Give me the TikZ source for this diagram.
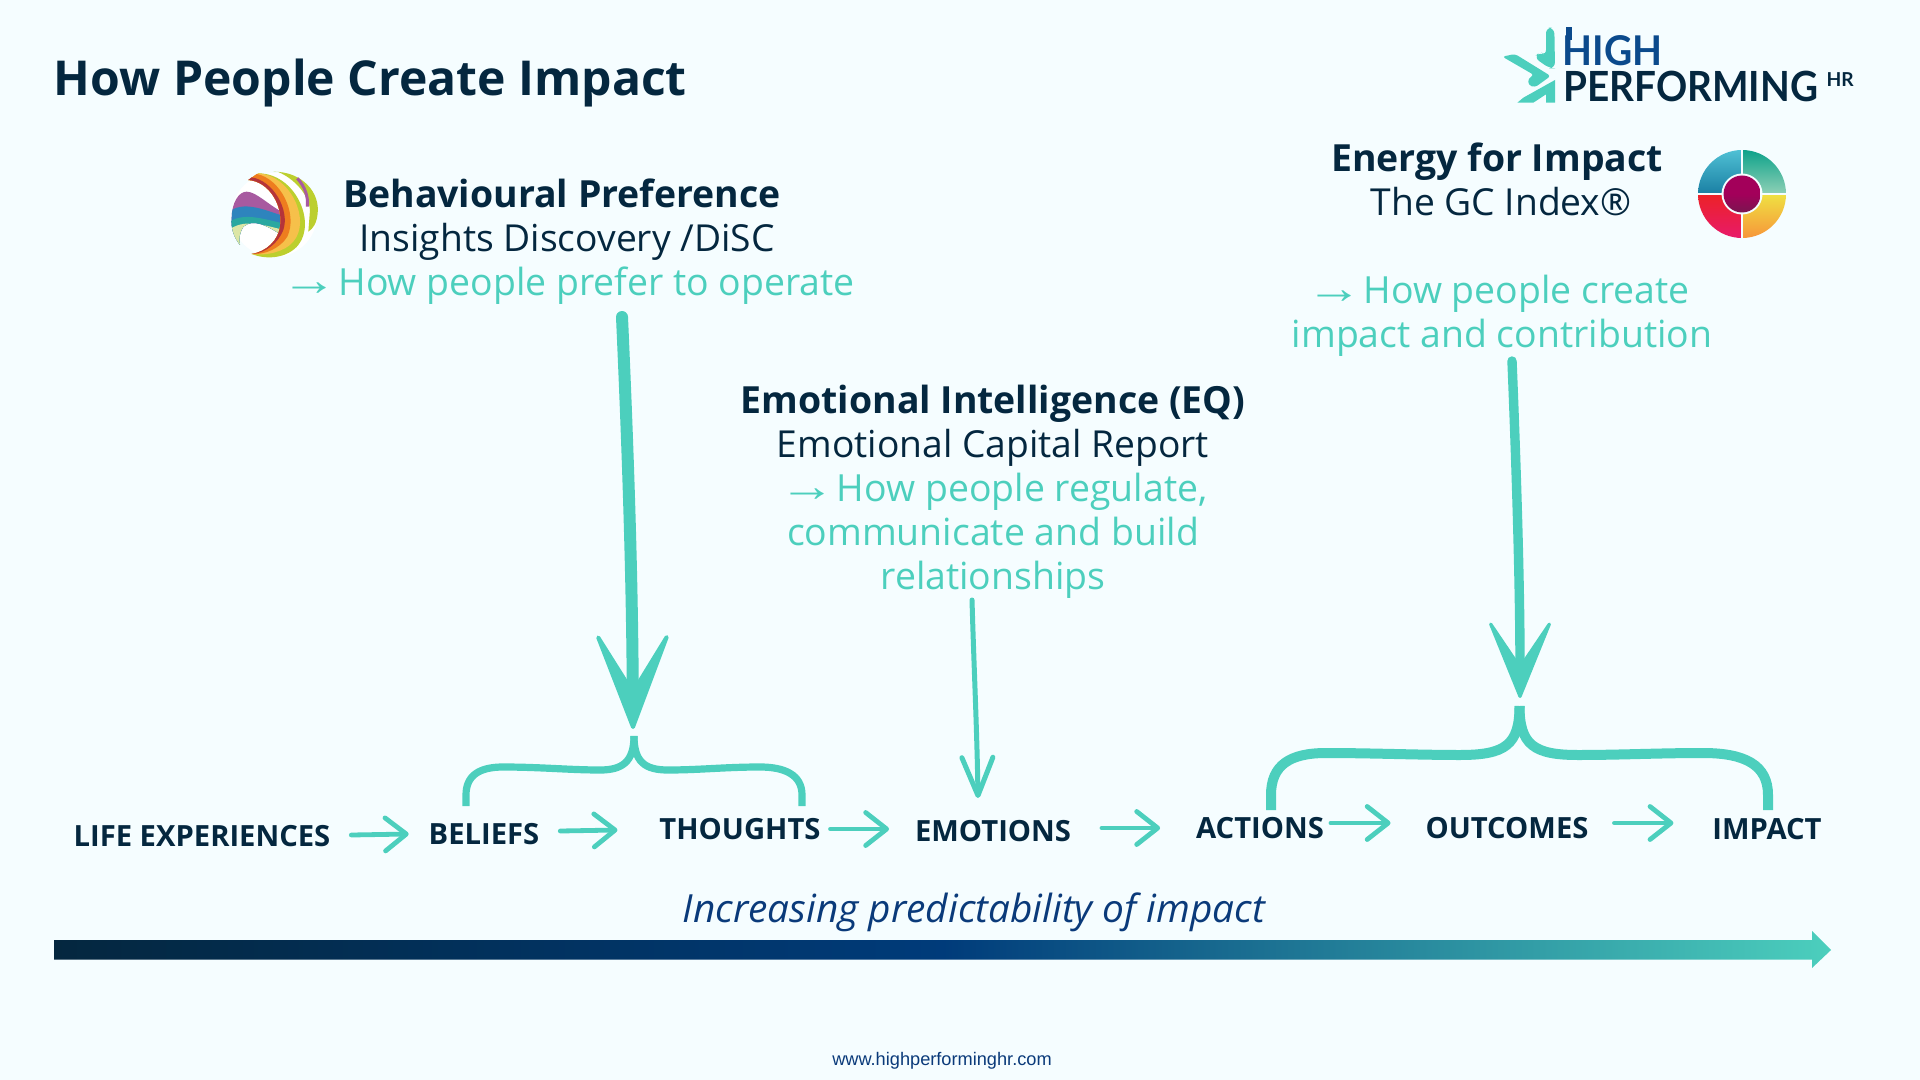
\documentclass[tikz,border=0pt]{standalone}
\usepackage{fontspec}
\setmainfont{Open Sans}
\newfontfamily\arrowfont{Liberation Sans}
\newfontfamily\footfont{Liberation Sans}
\newfontfamily\logofont{Lato}
\usetikzlibrary{arrows.meta}
\definecolor{bgc}{HTML}{F5FDFF}
\definecolor{inkc}{HTML}{04273F}
\definecolor{tealc}{HTML}{4CCFBD}
\definecolor{navyc}{HTML}{0A3A7A}
\definecolor{barmid}{HTML}{003B7A}
\definecolor{logob}{HTML}{0B4A8C}
\definecolor{ygreen}{HTML}{BCCF2E}
\definecolor{yorange}{HTML}{F6C04A}
\definecolor{sorange}{HTML}{EE7D1F}
\definecolor{sred}{HTML}{B5343A}
\definecolor{spurple}{HTML}{A85AA0}
\definecolor{sblue}{HTML}{2E84BD}
\definecolor{steal}{HTML}{2AA8A0}
\definecolor{spale}{HTML}{DCE6A6}
\tikzset{
  x=0.5pt,y=-0.5pt,
  every node/.style={inner sep=0pt,outer sep=0pt,anchor=base},
  titletxt/.style={font=\fontsize{24.05}{28}\selectfont\bfseries,text=inkc},
  headtxt/.style={font=\fontsize{18.7}{22}\selectfont\bfseries,text=inkc},
  subtxt/.style={font=\fontsize{18.6}{22}\selectfont,text=inkc},
  notetxt/.style={font=\fontsize{18.7}{22}\selectfont,text=tealc},
  steptxt/.style={font=\fontsize{14.6}{18}\selectfont\bfseries,text=inkc},
  flow/.style={draw=tealc,line width=2.4pt,line cap=round,line join=round,
    -{Straight Barb[length=10.5pt,width=16.5pt,line width=2.4pt,round]}},
  bigarrow/.style={draw=tealc,line cap=round,
    -{Stealth[length=57pt,width=43.5pt,inset=35pt,round,line width=2pt,fill=tealc]}},
  midarrow/.style={draw=tealc,line width=2.5pt,line cap=round,line join=round,
    -{Straight Barb[length=19pt,width=15.5pt,line width=2.5pt,round]}},
  bracket/.style={draw=tealc}
}
\newcommand{\arr}{\scalebox{1.5}[1.2]{\arrowfont →}\hspace{-4.3pt}}
\begin{document}
\begin{tikzpicture}
\useasboundingbox (0,0) rectangle (1920,1080);
\fill[bgc] (0,0) rectangle (1920,1080);

% title
\node[titletxt,anchor=base west] (title) at (54,96) {How People Create Impact};

% block 1
\node[headtxt] (b1a) at (562,208) {Behavioural Preference};
\node[subtxt] (b1b) at (567,252) {Insights Discovery /DiSC};
\node[notetxt] (b1c) at (568,296) {\arr{} How people prefer to operate};

% block 2
\node[headtxt] (b2a) at (993,413) {Emotional Intelligence (EQ)};
\node[subtxt] (b2b) at (993,457) {Emotional Capital Report};
\node[notetxt] (b2c) at (993.5,501) {\arr{} How people regulate,};
\node[notetxt] (b2d) at (993,545) {communicate and build};
\node[notetxt] (b2e) at (993,589) {relationships};

% block 3
\node[headtxt] (b3a) at (1497,172) {Energy for Impact};
\node[subtxt] (b3b) at (1501,216) {The GC Index®};
\node[notetxt] (b3c) at (1498,304) {\arr{} How people create};
\node[notetxt] (b3d) at (1502,348) {impact and contribution};

% steps
\node[steptxt] (life) at (202,846) {LIFE EXPERIENCES};
\node[steptxt] (beliefs) at (484,844) {BELIEFS};
\node[steptxt] (thoughts) at (740,839) {THOUGHTS};
\node[steptxt] (emotions) at (993,841) {EMOTIONS};
\node[steptxt] (actions) at (1260,838) {ACTIONS};
\node[steptxt] (outcomes) at (1507,838) {OUTCOMES};
\node[steptxt] (impact) at (1767,839) {IMPACT};

% flow connectors
\draw[flow] ([xshift=10.5pt,yshift=5.5pt]life.base east) -- ([xshift=-10pt,yshift=5pt]beliefs.base west);
\draw[flow] ([xshift=10.5pt,yshift=6.5pt]beliefs.base east) -- ([xshift=-21pt,yshift=4.5pt]thoughts.base west);
\draw[flow] ([xshift=5pt,yshift=5pt]thoughts.base east) -- ([xshift=-13pt,yshift=6pt]emotions.base west);
\draw[flow] ([xshift=15.5pt,yshift=6.5pt]emotions.base east) -- ([xshift=-18pt,yshift=5pt]actions.base west);
\draw[flow] ([xshift=3.5pt,yshift=7.5pt]actions.base east) -- ([xshift=-17.5pt,yshift=7.5pt]outcomes.base west);
\draw[flow] ([xshift=13pt,yshift=7.5pt]outcomes.base east) -- ([xshift=-19.5pt,yshift=8pt]impact.base west);

% braces
\coordinate (t1) at (634,736);
\coordinate (t1l) at (466,806);
\coordinate (t1r) at (802,806);
\draw[bracket,line width=3.6pt] (t1l) -- (466,795) .. controls (466,775) and (480,767) .. (503,767) .. controls (540,767) and (570,770) .. (600,770) .. controls (622,770) and (634,762) .. (t1);
\draw[bracket,line width=3.6pt] (t1r) -- (802,795) .. controls (802,775) and (785,767) .. (760,767) .. controls (725,767) and (700,770) .. (668,770) .. controls (645,770) and (634,762) .. (t1);

\coordinate (t2) at (1519.5,706);
\coordinate (t2l) at (1271,810);
\coordinate (t2r) at (1768,810);
\draw[bracket,line width=5pt] (t2l) -- (1271,795) .. controls (1271,765) and (1290,753) .. (1326,753) .. controls (1370,753) and (1420,755) .. (1460,755) .. controls (1505,755) and (1519.5,745) .. (t2);
\draw[bracket,line width=5pt] (t2r) -- (1768,795) .. controls (1768,765) and (1745,753) .. (1703,753) .. controls (1660,753) and (1620,755) .. (1578,755) .. controls (1534,755) and (1519.5,745) .. (t2);

% big arrows
\coordinate (a1s) at (622,317);
\coordinate (a1e) at (633,729);
\draw[bigarrow,line width=6pt] (a1s) .. controls (627,430) and (632,560) .. (a1e);
\coordinate (a3s) at (1512,361);
\coordinate (a3e) at (1520,698);
\draw[bigarrow,line width=4.7pt,-{Stealth[length=45pt,width=36.5pt,inset=27pt,round,line width=1.6pt,fill=tealc]}] (a3s) .. controls (1516,460) and (1520,580) .. (a3e);
\coordinate (a2s) at (972,600);
\coordinate (a2e) at (978,798);
\draw[midarrow] (a2s) .. controls (974,670) and (977,730) .. (a2e);

% scale label and gradient arrow
\node[font=\fontsize{19.4}{23}\selectfont\itshape,text=navyc] (scale) at (974,922) {Increasing predictability of impact};
\shade[left color=inkc,right color=tealc,middle color=barmid]
  (54,940) -- (1812,940) -- (1812,931) -- (1831,950) -- (1812,968) -- (1812,959.5) -- (54,959.5) -- cycle;

% footer
\node[font=\fontsize{9.1}{11}\selectfont\footfont,text=navyc] (foot) at (942,1065) {www.highperforminghr.com};

% Logo mark
\begin{scope}[shift={(1460,0)},scale=1/3]
  \fill[tealc,rounded corners=3pt] (258,82) -- (283,84) -- (285,205) -- (268,205) -- (222,172) -- (240,155) -- (258,168) -- cycle;
  \fill[tealc,rounded corners=1.5pt] (127,170) -- (165,162) -- (272,228) -- (225,262) -- (205,255) -- (205,235) -- (222,225) -- cycle;
  \fill[tealc] (172,308) -- (190,293) -- (285,240) -- (285,308) -- (258,308) -- (258,283) -- (220,308) -- cycle;
  \node[font=\fontsize{20.5}{24}\selectfont\logofont\bfseries,text=logob,anchor=base west] (logohigh) at (308,198) {\scalebox{0.95}[1]{HIGH}};
  \fill[logob] (318,82) rectangle (335,120);
  \node[font=\fontsize{20.8}{24}\selectfont\logofont\bfseries,text=inkc,anchor=base west] (logoperf) at (310,305) {\scalebox{0.93}[1]{PERFORMING}};
  \node[font=\fontsize{9.6}{12}\selectfont\logofont\bfseries,text=inkc,anchor=base west] (logohr) at (1100,261) {HR};
\end{scope}

% GC Index disc
\coordinate (gc) at (1742,194);
\definecolor{gc1}{HTML}{0DA28A}\definecolor{gc2}{HTML}{8FD0B6}
\definecolor{gc3}{HTML}{4FC0D4}\definecolor{gc4}{HTML}{1A7FA3}
\definecolor{gc5}{HTML}{EC2227}\definecolor{gc6}{HTML}{E81A6A}
\definecolor{gc7}{HTML}{EFE142}\definecolor{gc8}{HTML}{F7963A}
\definecolor{gc9}{HTML}{A3005A}\definecolor{gc10}{HTML}{7A1550}
\begin{scope}
  \clip (gc) circle[radius=44];
  \shade[top color=gc1,bottom color=gc2] (1742,150) rectangle (1786,194);
  \shade[top color=gc3,bottom color=gc4] (1698,150) rectangle (1742,194);
  \shade[top color=gc5,bottom color=gc6] (1698,194) rectangle (1742,238);
  \shade[top color=gc7,bottom color=gc8] (1742,194) rectangle (1786,238);
\end{scope}
\draw[bgc,line width=0.8pt] (1742,148) -- (1742,240) (1696,194) -- (1788,194);
\fill[bgc] (gc) circle[radius=20.5];
\shade[top color=gc9,bottom color=gc10,middle color=gc9] (gc) circle[radius=18.5];

% Insights sphere
\begin{scope}[shift={(210,150)},scale=1/3]
  \fill[white] (193,195) ellipse[x radius=128,y radius=126];
  \fill[ygreen] (190,65) .. controls (280,65) and (330,130) .. (323,190) .. controls (320,220) and (310,235) .. (295,245) -- (300,180) .. controls (295,130) and (250,85) .. (205,66) -- cycle;
  \draw[spurple,line width=1.5pt] (262,85) .. controls (285,110) and (295,140) .. (292,170);
  \begin{scope}
    \clip (65,205) .. controls (65,160) and (85,125) .. (110,125) .. controls (140,125) and (180,170) .. (225,190) -- (225,262) .. controls (170,225) and (130,205) .. (100,230) .. controls (90,245) and (85,265) .. (90,285) .. controls (70,260) and (62,230) .. (65,205) -- cycle;
    \fill[spurple] (40,100) rectangle (240,300);
    \fill[sblue] (40,200) .. controls (90,145) and (150,175) .. (240,205) -- (240,300) -- (40,300) -- cycle;
    \fill[steal] (40,230) .. controls (90,180) and (150,205) .. (240,225) -- (240,300) -- (40,300) -- cycle;
    \fill[spale] (40,255) .. controls (90,200) and (150,222) .. (240,245) -- (240,300) -- (40,300) -- cycle;
  \end{scope}
  \fill[ygreen] (145,70) .. controls (255,70) and (320,215) .. (265,285) .. controls (235,322) and (175,332) .. (125,312) .. controls (170,305) and (205,270) .. (210,230) .. controls (220,170) and (180,95) .. (115,90) -- cycle;
  \fill[yorange] (145,70) .. controls (240,75) and (305,210) .. (250,275) .. controls (225,305) and (170,318) .. (125,312) .. controls (170,305) and (205,270) .. (210,230) .. controls (220,170) and (180,95) .. (115,90) -- cycle;
  \fill[sorange] (140,72) .. controls (210,85) and (265,190) .. (232,260) .. controls (210,295) and (165,315) .. (125,312) .. controls (170,305) and (205,270) .. (210,230) .. controls (220,170) and (180,95) .. (115,90) -- cycle;
  \fill[sred] (125,82) .. controls (190,92) and (240,180) .. (220,240) .. controls (205,280) and (165,310) .. (125,312) .. controls (170,305) and (205,270) .. (210,230) .. controls (220,170) and (180,95) .. (115,90) -- cycle;
\end{scope}
\end{tikzpicture}
\end{document}
